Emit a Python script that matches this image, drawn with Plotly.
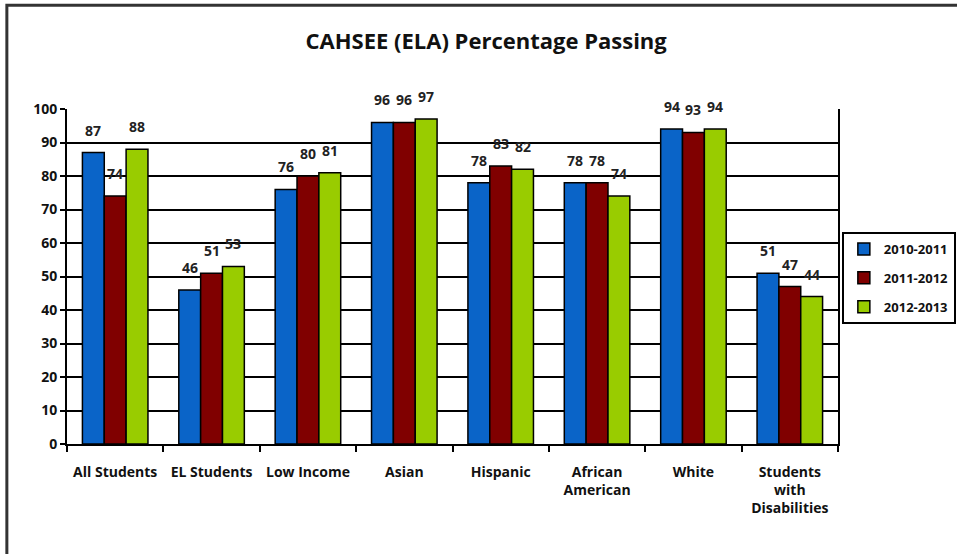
"""
CAHSEE (ELA) percentage passing by student group.
"""
import plotly.graph_objects as go

# Data
groups = [
    'All Students', 'EL Students', 'Low Income', 'Asian', 'Hispanic',
    'African<br>American', 'White', 'Students<br>with<br>Disabilities',
]
years = ['2010-2011', '2011-2012', '2012-2013']
pass_2010 = [87, 46, 76, 96, 78, 78, 94, 51]
pass_2011 = [74, 51, 80, 96, 83, 78, 93, 47]
pass_2012 = [88, 53, 81, 97, 82, 74, 94, 44]
colors = ['#0a64c8', '#800000', '#99cc00']

FONT = 'Open Sans'
BARGAP = 0.32

fig = go.Figure()
for year, vals, col in zip(years, [pass_2010, pass_2011, pass_2012], colors):
    fig.add_trace(go.Bar(
        x=groups,
        y=vals,
        name=f'<b>{year}</b>',
        legendgroup=year,
        marker=dict(color=col, line=dict(color='black', width=1.5)),
        cliponaxis=False,
    ))

# value labels sit a bit higher above the bars than plotly's outside text
plot_w = 957 - 67 - 119
bar_px = plot_w / len(groups) * (1 - BARGAP) / len(years)
for i, vals in enumerate([pass_2010, pass_2011, pass_2012]):
    for g, v in zip(groups, vals):
        fig.add_annotation(
            x=g, y=v, text=f'<b>{v}</b>', showarrow=False,
            xshift=(i - 1) * bar_px, yanchor='bottom', yshift=11,
            font=dict(family=FONT, size=14, color='#222'),
        )

fig.update_layout(
    width=957,
    height=554,
    margin=dict(l=67, r=119, t=109, b=110, autoexpand=False),
    paper_bgcolor='white',
    plot_bgcolor='white',
    barmode='group',
    bargap=BARGAP,
    bargroupgap=0,
    title=dict(
        text='<b>CAHSEE (ELA) Percentage Passing</b>',
        x=0.508, xanchor='center', y=0.925, yanchor='middle',
        font=dict(family=FONT, size=22, color='#111'),
    ),
    font=dict(family=FONT, size=14, color='#111'),
    legend=dict(
        x=1.005, xanchor='left', y=0.633, yanchor='top',
        bordercolor='black', borderwidth=2,
        font=dict(family=FONT, size=13, color='#111'),
        traceorder='grouped', tracegroupgap=9,
        itemwidth=30,
    ),
    shapes=[dict(
        type='rect', xref='paper', yref='paper',
        x0=-0.078, x1=1.17, y0=-0.35, y1=1.31,
        line=dict(color='#333', width=3),
    )],
)

fig.update_xaxes(
    showline=True, linecolor='black', linewidth=2,
    ticks='outside', tickson='boundaries', ticklen=6,
    tickcolor='black', tickwidth=2, tickangle=0,
    tickfont=dict(family=FONT, size=14, color='#111'),
    tickprefix='<b>', ticksuffix='</b>',
    ticklabelstandoff=14,
)
fig.update_yaxes(
    range=[0, 100], dtick=10,
    showgrid=True, gridcolor='black', gridwidth=2,
    showline=True, linecolor='black', linewidth=2, mirror=True,
    ticks='outside', ticklen=5, tickcolor='black', tickwidth=2,
    tickfont=dict(family=FONT, size=14, color='#111'),
    tickprefix='<b>', ticksuffix='</b>',
    zeroline=False,
)

fig.write_html(
    'out.html',
    config={'displayModeBar': False},
    post_script="document.body.style.margin='0';",
)
